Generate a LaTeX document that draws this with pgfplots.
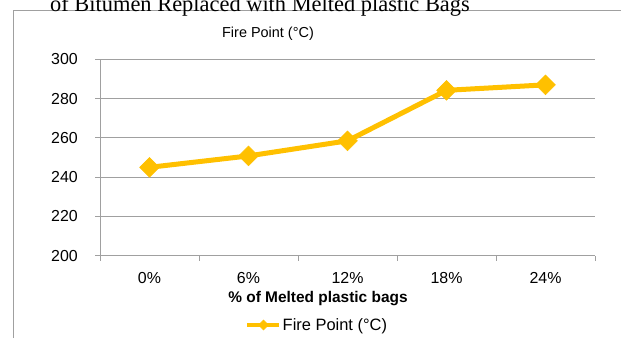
\documentclass[border=0pt]{standalone}
\usepackage{fontspec}
\setmainfont{Liberation Sans}
\newfontfamily\timesfont{Liberation Serif}
\usepackage{pgfplots}
\pgfplotsset{compat=1.18}
\definecolor{gold}{HTML}{FFC000}
\definecolor{gridgray}{HTML}{A0A0A0}
\begin{document}
\begin{tikzpicture}[x=1bp,y=1bp]
\begin{scope}
\clip (0,0) rectangle (621,338);
\draw[gridgray, line width=0.8bp] (13,0) -- (13,328) -- (621,328);
\node[anchor=base, font=\timesfont\fontsize{22.5}{26}\selectfont, inner sep=0] at (260,327) {of Bitumen Replaced with Melted plastic Bags};
\end{scope}
\node[anchor=base, font=\fontsize{14.5}{17}\selectfont, inner sep=0] at (268,301) {Fire Point (°C)};
\node[anchor=base, font=\bfseries\fontsize{15.5}{18}\selectfont, inner sep=0] at (318,36) {\% of Melted plastic bags};
\begin{axis}[at={(100bp,82.3bp)}, anchor=south west, scale only axis, width=495bp, height=196.4bp,
 xmin=-0.5, xmax=4.5, ymin=200, ymax=300, ytick={200,220,...,300},
 xtick={0,...,4}, xticklabels={0\%,6\%,12\%,18\%,24\%},
 minor xtick={-0.5,0.5,...,4.5},
 axis lines*=left, axis line style={-, gridgray, line width=0.8bp},
 major tick length=5bp, minor tick length=5bp, tick align=outside,
 tick style={gridgray, line width=0.8bp},
 major x tick style={draw=none},
 ymajorgrids, grid style={gridgray, line width=0.8bp},
 tick label style={font=\fontsize{16}{19}\selectfont},
 /pgf/number format/assume math mode=true,
 yticklabel style={anchor=east, inner sep=0pt, xshift=-17bp},
 xticklabel style={anchor=base, inner sep=0pt, yshift=-22.6bp},
 legend style={at={(axis description cs:0.293,-0.353)}, anchor=west, draw=none, fill=none, inner sep=0pt, font=\fontsize{16.5}{19}\selectfont, nodes={inner sep=1bp}},
 legend image code/.code={\draw[mark repeat=2, mark phase=2, #1, line width=4.5bp, mark size=3.5bp] plot coordinates {(0bp,0bp) (16bp,0bp) (32bp,0bp)};}
]
\addplot[gold, line width=5bp, mark=square*, mark size=7bp, mark options={rotate=45, solid, line width=0.5bp}] coordinates {(0,245)(1,250.8)(2,258.5)(3,284.2)(4,287)};
\legend{Fire Point (°C)}
\end{axis}
\pgfresetboundingbox
\path[use as bounding box] (0,0) rectangle (621,338);
\end{tikzpicture}
\end{document}
